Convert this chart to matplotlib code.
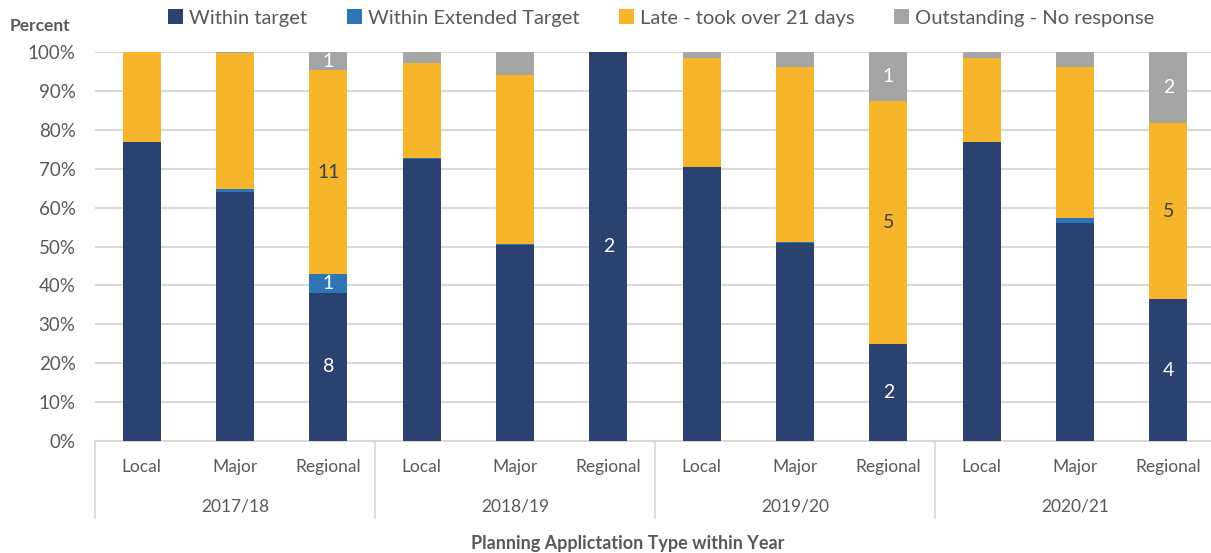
import matplotlib.pyplot as plt
import matplotlib.transforms as mtransforms
from matplotlib.patches import Patch
import numpy as np

plt.rcParams['font.family'] = ['Lato', 'DejaVu Sans']

years = ["2017/18", "2018/19", "2019/20", "2020/21"]
app_types = ["Local", "Major", "Regional"]

# percent of responses per bar (year x type, in order)
within_target = [76.9, 64.0, 38.1, 72.5, 50.4, 100.0, 70.4, 50.9, 25.0, 76.8, 56.1, 36.4]
within_extended = [0.0, 0.8, 4.8, 0.3, 0.3, 0.0, 0.0, 0.3, 0.0, 0.0, 1.2, 0.0]
late = [23.1, 34.9, 52.4, 24.3, 43.3, 0.0, 28.0, 44.9, 62.5, 21.6, 38.8, 45.4]
outstanding = [0.0, 0.3, 4.7, 2.9, 6.0, 0.0, 1.6, 3.9, 12.5, 1.6, 3.9, 18.2]

# counts shown on the Regional bars only
count_within = [None, None, 8, None, None, 2, None, None, 2, None, None, 4]
count_extended = [None, None, 1, None, None, None, None, None, None, None, None, None]
count_late = [None, None, 11, None, None, None, None, None, 5, None, None, 5]
count_outstanding = [None, None, 1, None, None, None, None, None, 1, None, None, 2]

series = [
    ("Within target", within_target, count_within, "#2B4170", "white"),
    ("Within Extended Target", within_extended, count_extended, "#2E75B6", "white"),
    ("Late - took over 21 days", late, count_late, "#F7B52B", "#404040"),
    ("Outstanding - No response", outstanding, count_outstanding, "#A5A5A5", "white"),
]

txt = "#595959"
grid = "#D9D9D9"

fig = plt.figure(figsize=(12.11, 5.53), dpi=100)
ax = fig.add_axes([95 / 1211, 112 / 553, 1120 / 1211, 389 / 553])

x = np.arange(len(within_target))
bottom = np.zeros(len(x))
handles = []
for name, vals, counts, color, lab_color in series:
    vals = np.array(vals)
    ax.bar(x, vals, 0.41, bottom=bottom, color=color, zorder=3)
    for i, c in enumerate(counts):
        if c is not None:
            ax.text(x[i], bottom[i] + vals[i] / 2, str(c), ha="center", va="center",
                    color=lab_color, fontsize=14, zorder=4)
    bottom += vals
    handles.append(Patch(facecolor=color, label=name))

ax.set_xlim(-0.5, len(x) - 0.5)
ax.set_ylim(0, 100)
ax.set_yticks(np.arange(0, 101, 10))
ax.set_yticklabels([f"{v}%" for v in range(0, 101, 10)])
ax.tick_params(axis="y", length=0, pad=14, labelsize=13.5, labelcolor=txt)
ax.set_xticks([])
ax.grid(axis="y", color=grid, linewidth=1.5, zorder=0)
for s in ["top", "right", "left"]:
    ax.spines[s].set_visible(False)
ax.spines["bottom"].set_color(grid)
ax.spines["bottom"].set_linewidth(1.5)

# two-level category axis
trans = mtransforms.blended_transform_factory(ax.transData, fig.transFigure)
for i in x:
    ax.text(i, 1 - 467 / 553, app_types[i % 3], transform=trans, ha="center", va="center",
            fontsize=12.5, color=txt)
for g, yr in enumerate(years):
    ax.text(g * 3 + 1, 1 - 506 / 553, yr, transform=trans, ha="center", va="center",
            fontsize=12.5, color=txt)
for g in range(len(years) + 1):
    ax.plot([g * 3 - 0.5] * 2, [1 - 441 / 553, 1 - 518 / 553], transform=trans,
            color=grid, linewidth=1.2, clip_on=False)

fig.text(0.518, 1 - 543 / 553, "Planning Applictation Type within Year", ha="center",
         va="center", fontsize=13, fontweight="bold", color=txt)
fig.text(10 / 1211, 1 - 26 / 553, "Percent", ha="left", va="center", fontsize=12.5,
         fontweight="bold", color=txt)

fig.legend(handles=handles, loc="center", bbox_to_anchor=(0.546, 1 - 18 / 553), ncol=4,
           frameon=False, fontsize=14.5, labelcolor=txt, handlelength=0.75, handleheight=0.75,
           handletextpad=0.3, columnspacing=1.95, borderaxespad=0)

fig.savefig("out.png", dpi=100)
